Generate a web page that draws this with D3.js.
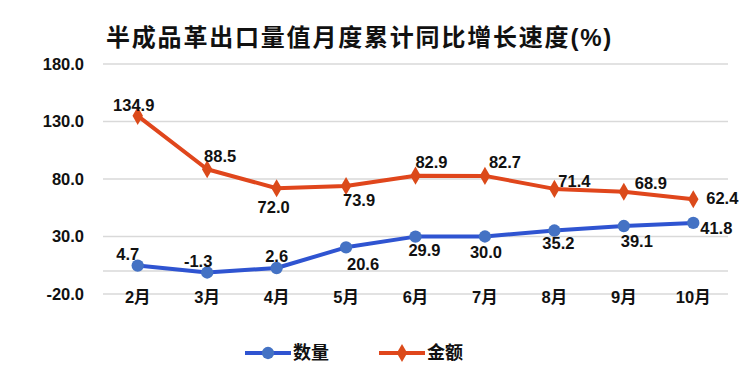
<!DOCTYPE html>
<html>
<head>
<meta charset="utf-8">
<script src="https://cdn.jsdelivr.net/npm/d3@7"></script>
<style>
  body { margin: 0; background: #fff; }
  text { font-family: "Liberation Sans", "Noto Sans CJK SC", sans-serif; font-weight: bold; fill: #111; }
</style>
</head>
<body>
<div id="chart"></div>
<script>
var months = ["2月", "3月", "4月", "5月", "6月", "7月", "8月", "9月", "10月"];
var quantity = [4.7, -1.3, 2.6, 20.6, 29.9, 30.0, 35.2, 39.1, 41.8];
var amount = [134.9, 88.5, 72.0, 73.9, 82.9, 82.7, 71.4, 68.9, 62.4];
var yTicks = [-20, 30, 80, 130, 180];
var seriesNames = ["数量", "金额"];

// label placement (Excel style, tweaked per point)
var quantityOffset = [[-10, -12], [-9, -11], [0, -12], [17, 17], [9, 13], [1, 16], [4, 13], [13, 15], [23, 5]];
var amountOffset = [[-4, -11], [13, -13], [-3, 19], [13, 14], [16, -14], [20, -14], [20, -8], [27, -9], [29, -1]];

var width = 750, height = 371;
var blueLine = "#2f54d1", blueDot = "#4472c4";
var orangeLine = "#e0461c", orangeDot = "#db4a1a";

var svg = d3.select("#chart").append("svg")
    .attr("width", width)
    .attr("height", height);

var x = d3.scalePoint()
    .domain(months)
    .range([103, 728])
    .padding(0.5);

var y = d3.scaleLinear()
    .domain([-20, 180])
    .range([294, 64]);

// title
svg.append("text")
    .attr("x", 106)
    .attr("y", 46)
    .attr("font-size", 24)
    .attr("letter-spacing", 1.8)
    .text("半成品革出口量值月度累计同比增长速度(%)");

// gridlines
svg.selectAll(".grid")
    .data(yTicks)
    .enter().append("line")
    .attr("class", "grid")
    .attr("x1", 103).attr("x2", 728)
    .attr("y1", function(d) { return y(d); })
    .attr("y2", function(d) { return y(d); })
    .attr("stroke", "#d9d9d9")
    .attr("stroke-width", 1.5);

// zero axis
svg.append("line")
    .attr("x1", 103).attr("x2", 728)
    .attr("y1", y(0)).attr("y2", y(0))
    .attr("stroke", "#d9d9d9")
    .attr("stroke-width", 1.5);

svg.selectAll(".ytick")
    .data(yTicks)
    .enter().append("text")
    .attr("class", "ytick")
    .attr("x", 84)
    .attr("y", function(d) { return y(d); })
    .attr("dy", "0.36em")
    .attr("text-anchor", "end")
    .attr("font-size", 16.5)
    .text(function(d) { return d.toFixed(1); });

svg.selectAll(".xtick")
    .data(months)
    .enter().append("text")
    .attr("class", "xtick")
    .attr("x", function(d) { return x(d); })
    .attr("y", 297)
    .attr("dy", "0.36em")
    .attr("text-anchor", "middle")
    .attr("font-size", 16.5)
    .text(function(d) { return d; });

var line = d3.line()
    .x(function(d, i) { return x(months[i]); })
    .y(function(d) { return y(d); });

function drawSeries(values, offsets, lineColor, dotColor, shape) {
  svg.append("path")
      .datum(values)
      .attr("d", line)
      .attr("fill", "none")
      .attr("stroke", lineColor)
      .attr("stroke-width", 4)
      .attr("stroke-linejoin", "round");

  svg.selectAll(".m" + shape)
      .data(values)
      .enter().append("path")
      .attr("class", "m" + shape)
      .attr("d", d3.symbol().type(shape == "circle" ? d3.symbolCircle : d3.symbolDiamond).size(shape == "circle" ? 120 : 95))
      .attr("transform", function(d, i) { return "translate(" + x(months[i]) + "," + y(d) + ")"; })
      .attr("fill", dotColor);

  svg.selectAll(".l" + shape)
      .data(values)
      .enter().append("text")
      .attr("class", "l" + shape)
      .attr("x", function(d, i) { return x(months[i]) + offsets[i][0]; })
      .attr("y", function(d, i) { return y(d) + offsets[i][1]; })
      .attr("dy", "0.36em")
      .attr("text-anchor", "middle")
      .attr("font-size", 16.5)
      .text(function(d) { return d.toFixed(1); });
}

drawSeries(quantity, quantityOffset, blueLine, blueDot, "circle");
drawSeries(amount, amountOffset, orangeLine, orangeDot, "diamond");

// legend
var legend = [
  {name: seriesNames[0], x: 245, line: blueLine, dot: blueDot, sym: d3.symbolCircle, size: 120},
  {name: seriesNames[1], x: 379, line: orangeLine, dot: orangeDot, sym: d3.symbolDiamond, size: 95}
];
var lg = svg.selectAll(".legend")
    .data(legend)
    .enter().append("g")
    .attr("class", "legend")
    .attr("transform", function(d) { return "translate(" + d.x + ",353)"; });

lg.append("line")
    .attr("x1", 0).attr("x2", 46)
    .attr("stroke", function(d) { return d.line; })
    .attr("stroke-width", 4);

lg.append("path")
    .attr("d", function(d) { return d3.symbol().type(d.sym).size(d.size)(); })
    .attr("transform", "translate(23,0)")
    .attr("fill", function(d) { return d.dot; });

lg.append("text")
    .attr("x", 48)
    .attr("dy", "0.36em")
    .attr("font-size", 18)
    .text(function(d) { return d.name; });
</script>
</body>
</html>
